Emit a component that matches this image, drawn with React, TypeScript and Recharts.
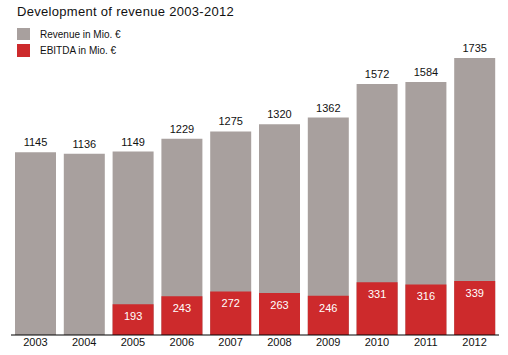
import React from "react";
import { BarChart, Bar, XAxis, YAxis, LabelList } from "recharts";

const years = ["2003", "2004", "2005", "2006", "2007", "2008", "2009", "2010", "2011", "2012"];
const revenue = [1145, 1136, 1149, 1229, 1275, 1320, 1362, 1572, 1584, 1735];
const ebitda: (number | null)[] = [null, null, 193, 243, 272, 263, 246, 331, 316, 339];

const GREY = "#a8a09e";
const RED = "#cd2a2c";
const FONT = "'Liberation Sans', Arial, Helvetica, sans-serif";

const data = years.map((year, i) => ({
  year,
  revenue: revenue[i],
  ebitda: ebitda[i],
}));

export default function App() {
  return (
    <div
      style={{
        position: "absolute",
        left: 0,
        top: 0,
        width: 508,
        height: 355,
        background: "#fff",
        fontFamily: FONT,
      }}
    >
      <div style={{ position: "absolute", left: 17, top: 4, fontSize: 13, color: "#111", letterSpacing: 0.3 }}>
        Development of revenue 2003-2012
      </div>
      <div style={{ position: "absolute", left: 17, top: 28, display: "flex", alignItems: "center", fontSize: 10, color: "#111" }}>
        <span style={{ width: 13, height: 12, background: GREY, display: "inline-block", marginRight: 10 }} />
        Revenue in Mio. €
      </div>
      <div style={{ position: "absolute", left: 17, top: 44, display: "flex", alignItems: "center", fontSize: 10, color: "#111" }}>
        <span style={{ width: 13, height: 13, background: RED, display: "inline-block", marginRight: 10 }} />
        EBITDA in Mio. €
      </div>
      <BarChart
        width={508}
        height={355}
        data={data}
        margin={{ top: 58, right: 9, bottom: 0, left: 11 }}
        barSize={41}
        barGap={-41}
        style={{ position: "absolute", left: 0, top: 0 }}
      >
        <XAxis
          dataKey="year"
          height={20}
          axisLine={{ stroke: "#000", strokeWidth: 1 }}
          tickLine={false}
          tickSize={0}
          tickMargin={3}
          tick={{ fill: "#111", fontSize: 11, fontFamily: FONT }}
          interval={0}
        />
        <YAxis hide domain={[0, 1735]} />
        <Bar dataKey="revenue" fill={GREY} isAnimationActive={false}>
          <LabelList
            dataKey="revenue"
            position="top"
            offset={6}
            fill="#111"
            fontSize={11}
            fontFamily={FONT}
          />
        </Bar>
        <Bar dataKey="ebitda" fill={RED} isAnimationActive={false}>
          <LabelList
            dataKey="ebitda"
            position="insideTop"
            offset={8}
            fill="#fff"
            fontSize={11}
            fontFamily={FONT}
          />
        </Bar>
      </BarChart>
    </div>
  );
}
